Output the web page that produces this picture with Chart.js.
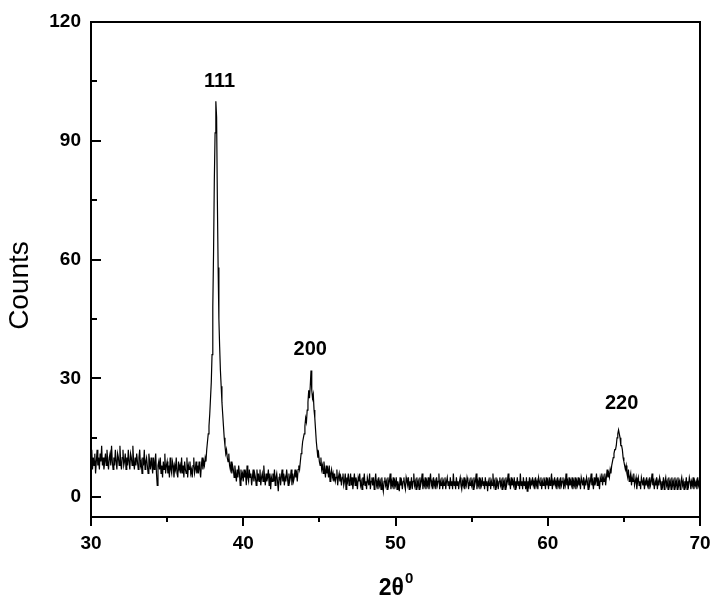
<!DOCTYPE html>
<html>
<head>
<meta charset="utf-8">
<script src="https://cdn.jsdelivr.net/npm/chart.js@4.4.1/dist/chart.umd.min.js"></script>
<style>
  html, body { margin: 0; padding: 0; background: #fff; }
  #wrap { width: 720px; height: 600px; }
</style>
</head>
<body>
<div id="wrap"><canvas id="xrd"></canvas></div>
<script>
// Scan grid: 2theta from 30 to 70 in 0.05 degree steps
const scanStart = 30;
const scanStep = 0.05;

// Counts, one row per half degree
const counts = [
  9, 12, 7, 10, 8, 11, 6, 9, 12, 8,        // 30.0
  10, 7, 11, 9, 13, 8, 10, 7, 9, 11,       // 30.5
  8, 12, 9, 7, 10, 11, 8, 13, 9, 7,        // 31.0
  10, 8, 12, 9, 7, 11, 10, 8, 13, 9,       // 31.5
  7, 10, 12, 8, 9, 11, 7, 10, 8, 12,       // 32.0
  9, 7, 11, 10, 8, 13, 9, 7, 10, 8,        // 32.5
  11, 9, 7, 10, 12, 8, 9, 6, 10, 8,        // 33.0
  12, 7, 9, 10, 8, 6, 11, 9, 7, 10,        // 33.5
  8, 6, 10, 7, 9, 11, 6, 3, 8, 9,          // 34.0
  7, 10, 6, 8, 5, 9, 7, 11, 6, 8,          // 34.5
  9, 6, 8, 5, 10, 7, 6, 9, 8, 5,           // 35.0
  8, 7, 10, 6, 5, 9, 7, 8, 6, 10,          // 35.5
  6, 8, 5, 9, 7, 6, 10, 5, 8, 7,           // 36.0
  9, 6, 7, 5, 8, 10, 6, 7, 9, 6,           // 36.5
  8, 6, 9, 7, 5, 8, 10, 7, 9, 8,           // 37.0
  10, 9, 12, 14, 16, 18, 21, 25, 29, 36,   // 37.5
  48, 62, 80, 92, 100, 96, 75, 58, 45, 38, // 38.0
  32, 28, 24, 21, 18, 15, 13, 11, 12, 10,  // 38.5
  9, 11, 8, 7, 9, 6, 8, 7, 5, 8,           // 39.0
  6, 4, 7, 5, 8, 6, 3, 7, 5, 6,            // 39.5
  4, 7, 5, 6, 3, 8, 5, 4, 7, 5,            // 40.0
  6, 3, 5, 7, 4, 6, 5, 3, 7, 4,            // 40.5
  6, 4, 7, 3, 5, 6, 4, 8, 5, 3,            // 41.0
  6, 4, 5, 7, 3, 6, 2, 5, 4, 6,            // 41.5
  4, 7, 3, 5, 6, 4, 1.5, 5, 6, 3,          // 42.0
  5, 7, 4, 6, 3, 5, 4, 7, 5, 3,            // 42.5
  6, 4, 5, 7, 3, 6, 4, 5, 7, 5,            // 43.0
  6, 4, 7, 8, 7, 9, 11, 12, 14, 15,        // 43.5
  16, 18, 20, 19, 22, 24, 27, 25, 28, 32,  // 44.0
  27, 25, 26, 22, 20, 17, 14, 12, 10, 11,  // 44.5
  9, 8, 10, 7, 8, 6, 9, 7, 5, 8,           // 45.0
  6, 7, 5, 8, 4, 6, 7, 5, 6, 4,            // 45.5
  6, 4, 5, 7, 3, 5, 6, 4, 5, 3,            // 46.0
  5, 6, 3, 4, 6, 2, 5, 4, 6, 3,            // 46.5
  4, 6, 3, 5, 2, 4, 6, 3, 5, 4,            // 47.0
  2, 5, 4, 6, 3, 4, 2, 5, 3, 6,            // 47.5
  3, 4, 2, 5, 4, 3, 6, 2, 4, 5,            // 48.0
  3, 5, 2, 4, 6, 3, 4, 2, 5, 3,            // 48.5
  4, 2, 5, 3, 1.5, 4, 5, 3, 4, 2,          // 49.0
  5, 3, 4, 6, 2, 4, 3, 5, 2, 4,            // 49.5
  3, 5, 2, 4, 3, 1.5, 5, 3, 4, 2,          // 50.0
  4, 5, 3, 2, 5, 4, 3, 5, 2, 4,            // 50.5
  3, 5, 2, 4, 6, 3, 4, 2, 5, 3,            // 51.0
  4, 2, 5, 3, 4, 6, 2, 4, 3, 5,            // 51.5
  2, 4, 3, 5, 2, 4, 6, 3, 4, 2,            // 52.0
  5, 3, 4, 2, 5, 3, 4, 6, 2, 4,            // 52.5
  3, 5, 2, 4, 3, 5, 2, 4, 5, 3,            // 53.0
  4, 2, 5, 3, 4, 2, 6, 3, 4, 2,            // 53.5
  5, 3, 4, 2, 4, 5, 3, 2, 4, 3,            // 54.0
  5, 2, 4, 3, 5, 4, 2, 4, 3, 5,            // 54.5
  3, 4, 2, 5, 3, 4, 6, 2, 4, 3,            // 55.0
  5, 2, 4, 3, 5, 3, 4, 2, 5, 3,            // 55.5
  4, 1.5, 4, 3, 5, 2, 4, 3, 6, 3,          // 56.0
  4, 2, 5, 3, 4, 2, 4, 5, 3, 4,            // 56.5
  2, 5, 3, 4, 2, 5, 3, 4, 6, 3,            // 57.0
  4, 2, 5, 3, 4, 3, 5, 2, 4, 3,            // 57.5
  5, 3, 4, 2, 6, 3, 4, 2, 5, 3,            // 58.0
  4, 2, 5, 1.5, 4, 3, 5, 2, 4, 3,          // 58.5
  5, 3, 4, 2, 5, 3, 4, 2, 5, 4,            // 59.0
  3, 5, 2, 4, 3, 5, 4, 2, 5, 3,            // 59.5
  4, 2, 5, 3, 4, 6, 2, 4, 3, 5,            // 60.0
  3, 4, 2, 5, 3, 4, 2, 5, 3, 4,            // 60.5
  5, 2, 4, 3, 6, 3, 4, 2, 5, 3,            // 61.0
  4, 3, 5, 2, 4, 3, 5, 2, 4, 3,            // 61.5
  5, 3, 4, 2, 5, 4, 3, 5, 2, 4,            // 62.0
  3, 5, 4, 2, 5, 3, 4, 6, 3, 4,            // 62.5
  2, 5, 3, 4, 6, 3, 5, 4, 2, 5,            // 63.0
  4, 6, 3, 5, 4, 6, 3, 5, 7, 5,            // 63.5
  6, 5, 7, 6, 8, 9, 10, 11, 12, 12,        // 64.0
  13, 15, 16, 17, 16, 15, 13, 13, 12, 10,  // 64.5
  9, 8, 7, 8, 6, 5, 7, 4, 5, 6,            // 65.0
  3, 5, 4, 6, 3, 4, 5, 2, 4, 5,            // 65.5
  3, 4, 2, 5, 4, 3, 5, 2, 4, 3,            // 66.0
  5, 3, 4, 2, 5, 3, 4, 6, 3, 4,            // 66.5
  2, 4, 3, 5, 2, 4, 3, 5, 4, 2,            // 67.0
  4, 3, 5, 2, 4, 5, 3, 4, 2, 5,            // 67.5
  3, 4, 2, 5, 3, 4, 2, 5, 3, 4,            // 68.0
  2, 5, 3, 4, 2, 4, 5, 3, 4, 2,            // 68.5
  4, 3, 5, 2, 4, 3, 5, 4, 2, 4,            // 69.0
  3, 5, 2, 4, 3, 4, 2, 5, 3, 4,            // 69.5
  3                                        // 70.0
];

// Axis ticks
const xTicks = [30, 40, 50, 60, 70];
const xMinorTicks = [35, 45, 55, 65];
const yTicks = [0, 30, 60, 90, 120];
const yMinorTicks = [15, 45, 75, 105];

// Reflection labels (hkl) and where they sit in data units
const peakNames = ["111", "200", "220"];
const peakLabelX = [38.45, 44.4, 64.85];
const peakLabelY = [103.5, 36, 22.3];

const FONT = "'Liberation Sans', Arial, sans-serif";

const points = counts.map((c, i) => ({ x: scanStart + i * scanStep, y: c }));

// Frame, tick marks, axis titles and peak labels
const decorations = {
  id: "decorations",
  afterDraw(chart) {
    const { ctx, chartArea: a, scales } = chart;
    const xs = scales.x, ys = scales.y;
    ctx.save();
    ctx.strokeStyle = "#000";
    ctx.lineWidth = 2;
    ctx.strokeRect(a.left, a.top, a.right - a.left, a.bottom - a.top);

    ctx.beginPath();
    // y ticks point inwards
    yTicks.forEach((v) => {
      const py = Math.round(ys.getPixelForValue(v));
      ctx.moveTo(a.left, py);
      ctx.lineTo(a.left + 10, py);
    });
    yMinorTicks.forEach((v) => {
      const py = Math.round(ys.getPixelForValue(v));
      ctx.moveTo(a.left, py);
      ctx.lineTo(a.left + 6, py);
    });
    // x ticks point outwards
    xTicks.forEach((v) => {
      const px = Math.round(xs.getPixelForValue(v));
      ctx.moveTo(px, a.bottom);
      ctx.lineTo(px, a.bottom + 9);
    });
    xMinorTicks.forEach((v) => {
      const px = Math.round(xs.getPixelForValue(v));
      ctx.moveTo(px, a.bottom);
      ctx.lineTo(px, a.bottom + 5);
    });
    ctx.stroke();

    // peak labels
    ctx.fillStyle = "#000";
    ctx.font = "bold 20px " + FONT;
    ctx.textAlign = "center";
    ctx.textBaseline = "alphabetic";
    peakNames.forEach((name, i) => {
      ctx.fillText(name, xs.getPixelForValue(peakLabelX[i]), ys.getPixelForValue(peakLabelY[i]));
    });

    // x title: 2θ with superscript 0
    ctx.font = "bold 23px " + FONT;
    ctx.textAlign = "left";
    const main = "2\u03B8";
    const wMain = ctx.measureText(main).width;
    ctx.font = "bold 15px " + FONT;
    const wSup = ctx.measureText("0").width;
    const cx = (a.left + a.right) / 2;
    const startX = cx - (wMain + wSup) / 2;
    ctx.font = "bold 23px " + FONT;
    ctx.fillText(main, startX, 595);
    ctx.font = "bold 15px " + FONT;
    ctx.fillText("0", startX + wMain + 1, 583);

    // y title
    ctx.translate(28, (a.top + a.bottom) / 2 + 16);
    ctx.rotate(-Math.PI / 2);
    ctx.font = "28px " + FONT;
    ctx.textAlign = "center";
    ctx.fillText("Counts", 0, 0);
    ctx.restore();
  },
};

const ctx = document.getElementById("xrd").getContext("2d");
const xrdChart = new Chart(ctx, {
  type: "line",
  data: {
    datasets: [
      {
        label: "XRD",
        data: points,
        borderColor: "#000",
        borderWidth: 1.2,
        pointRadius: 0,
        tension: 0,
        fill: false,
      },
    ],
  },
  options: {
    responsive: true,
    maintainAspectRatio: false,
    animation: false,
    layout: { padding: { left: 0, right: 20, top: 22, bottom: 0 } },
    plugins: { legend: { display: false }, tooltip: { enabled: false } },
    scales: {
      x: {
        type: "linear",
        min: 30,
        max: 70,
        grid: { display: false, drawTicks: false },
        border: { display: false },
        afterBuildTicks: (s) => { s.ticks = xTicks.map((v) => ({ value: v })); },
        afterFit: (s) => {
          s.height = 83;
          s.paddingLeft = 0;
          s.paddingRight = 0;
        },
        ticks: {
          padding: 15,
          maxRotation: 0,
          color: "#000",
          font: { family: FONT, size: 19, weight: "bold" },
        },
      },
      y: {
        min: -5,
        max: 120,
        grid: { display: false, drawTicks: false },
        border: { display: false },
        afterBuildTicks: (s) => { s.ticks = yTicks.map((v) => ({ value: v })); },
        afterFit: (s) => { s.width = 91; },
        ticks: {
          padding: 10,
          color: "#000",
          font: { family: FONT, size: 19, weight: "bold" },
        },
      },
    },
  },
  plugins: [decorations],
});
</script>
</body>
</html>
